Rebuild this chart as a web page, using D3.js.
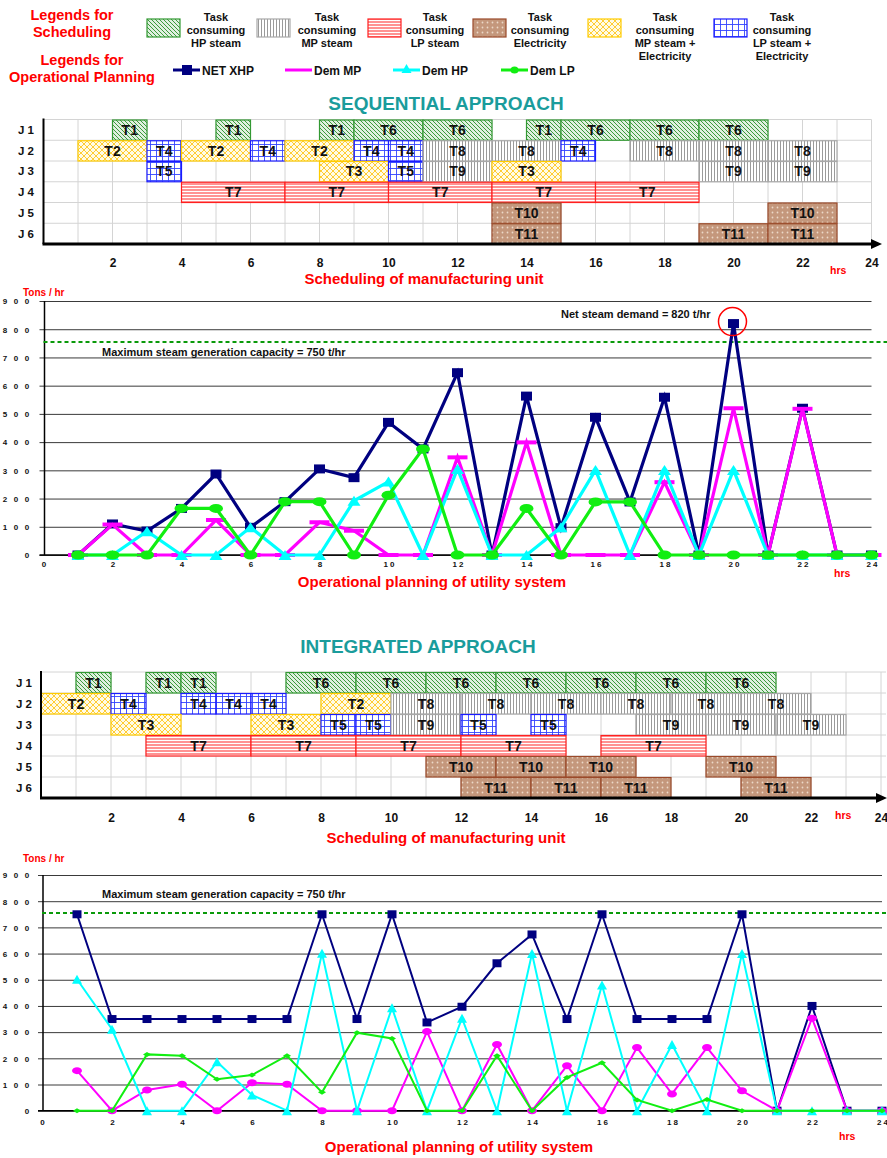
<!DOCTYPE html>
<html>
<head>
<meta charset="utf-8">
<script src="https://cdn.jsdelivr.net/npm/d3@7"></script>
<style>
  body { margin: 0; background: #fff; }
  text { font-family: Arial, "Liberation Sans", sans-serif; }
</style>
</head>
<body>
<script>
// ---------- data ----------
var jobs = ["J 1", "J 2", "J 3", "J 4", "J 5", "J 6"];
var hours = [1, 2, 3, 4, 5, 6, 7, 8, 9, 10, 11, 12, 13, 14, 15, 16, 17, 18, 19, 20, 21, 22, 23, 24];
var ganttTicks = [2, 4, 6, 8, 10, 12, 14, 16, 18, 20, 22, 24];
var chartXTicks = [0, 2, 4, 6, 8, 10, 12, 14, 16, 18, 20, 22, 24];
var chartYTicks = [0, 100, 200, 300, 400, 500, 600, 700, 800, 900];

// which utility each task consumes
var taskType = {T1: "hp", T6: "hp", T8: "mp", T9: "mp", T7: "lp",
                T10: "el", T11: "el", T2: "mpe", T3: "mpe", T4: "lpe", T5: "lpe"};

// [job, task, start, end]
var seqTasks = [
  ["J 1","T1",2,3],["J 1","T1",5,6],["J 1","T1",8,9],["J 1","T6",9,11],["J 1","T6",11,13],
  ["J 1","T1",14,15],["J 1","T6",15,17],["J 1","T6",17,19],["J 1","T6",19,21],
  ["J 2","T2",1,3],["J 2","T4",3,4],["J 2","T2",4,6],["J 2","T4",6,7],["J 2","T2",7,9],
  ["J 2","T4",9,10],["J 2","T4",10,11],["J 2","T8",11,13],["J 2","T8",13,15],["J 2","T4",15,16],
  ["J 2","T8",17,19],["J 2","T8",19,21],["J 2","T8",21,23],
  ["J 3","T5",3,4],["J 3","T3",8,10],["J 3","T5",10,11],["J 3","T9",11,13],["J 3","T3",13,15],
  ["J 3","T9",19,21],["J 3","T9",21,23],
  ["J 4","T7",4,7],["J 4","T7",7,10],["J 4","T7",10,13],["J 4","T7",13,16],["J 4","T7",16,19],
  ["J 5","T10",13,15],["J 5","T10",21,23],
  ["J 6","T11",13,15],["J 6","T11",19,21],["J 6","T11",21,23]
];
var intTasks = [
  ["J 1","T1",1,2],["J 1","T1",3,4],["J 1","T1",4,5],["J 1","T6",7,9],["J 1","T6",9,11],
  ["J 1","T6",11,13],["J 1","T6",13,15],["J 1","T6",15,17],["J 1","T6",17,19],["J 1","T6",19,21],
  ["J 2","T2",0,2],["J 2","T4",2,3],["J 2","T4",4,5],["J 2","T4",5,6],["J 2","T4",6,7],
  ["J 2","T2",8,10],["J 2","T8",10,12],["J 2","T8",12,14],["J 2","T8",14,16],["J 2","T8",16,18],
  ["J 2","T8",18,20],["J 2","T8",20,22],
  ["J 3","T3",2,4],["J 3","T3",6,8],["J 3","T5",8,9],["J 3","T5",9,10],["J 3","T9",10,12],
  ["J 3","T5",12,13],["J 3","T5",14,15],["J 3","T9",17,19],["J 3","T9",19,21],["J 3","T9",21,23],
  ["J 4","T7",3,6],["J 4","T7",6,9],["J 4","T7",9,12],["J 4","T7",12,15],["J 4","T7",16,19],
  ["J 5","T10",11,13],["J 5","T10",13,15],["J 5","T10",15,17],["J 5","T10",19,21],
  ["J 6","T11",12,14],["J 6","T11",14,16],["J 6","T11",16,18],["J 6","T11",20,22]
];

// steam demand (t/hr) per hour, sequential approach
var seqNetXHP = [0,110,85,165,287,98,189,305,274,470,376,646,0,563,97,488,188,559,0,820,0,520,0,0];
var seqDemMP  = [0,108,0,0,124,0,0,116,86,0,0,346,0,399,0,0,0,258,0,520,0,518,0,0];
var seqDemHP  = [0,0,84,0,0,98,0,0,192,260,0,305,0,0,98,301,0,301,0,301,0,0,0,0];
var seqDemLP  = [0,0,0,165,165,0,189,189,0,212,376,0,0,165,0,188,188,0,0,0,0,0,0,0];

// integrated approach
var intNetXHP = [750,350,350,350,350,350,350,750,350,750,337,397,563,673,350,750,350,350,350,750,0,400,0,0];
var intDemMP  = [153,0,79,101,0,107,101,0,0,0,302,0,253,0,172,0,241,64,241,76,0,353,0,0];
var intDemHP  = [502,311,0,0,187,60,0,601,0,393,0,353,0,600,0,480,0,253,0,600,0,0,0,0];
var intDemLP  = [0,0,215,210,120,136,210,70,298,276,0,0,210,0,127,183,41,0,43,0,0,0,0,0];

var capacityLine = 755;
var peakHour = 20, peakValue = 820;

var legendTasks = [
  ["hp",  ["Task", "consuming", "HP steam"]],
  ["mp",  ["Task", "consuming", "MP steam"]],
  ["lp",  ["Task", "consuming", "LP steam"]],
  ["el",  ["Task", "consuming", "Electricity"]],
  ["mpe", ["Task", "consuming", "MP steam +", "Electricity"]],
  ["lpe", ["Task", "consuming", "LP steam +", "Electricity"]]
];
var seriesNames = ["NET XHP", "Dem MP", "Dem HP", "Dem LP"];

// ---------- drawing ----------
var svg = d3.select("body").append("svg").attr("width", 887).attr("height", 1158);
var defs = svg.append("defs");
var RED = "#ff0000", TEAL = "#1a9c9c";
var col = {navy: "#000080", mag: "#ff00ff", cyan: "#00ffff", green: "#11ee11"};
var border = {hp: "#339933", mp: "#a8a8a8", lp: "#ff2020", el: "#9a4a2a", mpe: "#ffcc00", lpe: "#1a1aff"};

function pattern(id, w, h, bg) {
  var p = defs.append("pattern").attr("id", "pat-" + id)
    .attr("patternUnits", "userSpaceOnUse").attr("width", w).attr("height", h);
  p.append("rect").attr("width", w).attr("height", h).attr("fill", bg);
  return p;
}
pattern("hp", 4, 4, "#e0f0e0").append("path")
  .attr("d", "M0,0 L4,4 M-1,3 L1,5 M3,-1 L5,1").attr("stroke", "#3c9a3c").attr("stroke-width", 1);
pattern("mp", 3, 3, "#fff").append("line")
  .attr("x1", 0.5).attr("x2", 0.5).attr("y1", 0).attr("y2", 3).attr("stroke", "#9a9a9a").attr("stroke-width", 1);
pattern("lp", 3, 3, "#fff").append("line")
  .attr("x1", 0).attr("x2", 3).attr("y1", 1).attr("y2", 1).attr("stroke", "#ff4a4a").attr("stroke-width", 1.2);
var pe = pattern("el", 5, 5, "#c4977c");
pe.append("circle").attr("cx", 2.5).attr("cy", 2.5).attr("r", 0.9).attr("fill", "#ecd8c8");
pattern("mpe", 6, 6, "#fffbe6").append("path")
  .attr("d", "M0,0 L6,6 M6,0 L0,6 M-1,5 L1,7 M5,-1 L7,1 M-1,1 L1,-1 M5,7 L7,5")
  .attr("stroke", "#ffcc33").attr("stroke-width", 1);
pattern("lpe", 6, 6, "#fff").append("path")
  .attr("d", "M0,0.5 H6 M0.5,0 V6").attr("stroke", "#3344ff").attr("stroke-width", 0.9);

// ---- legends ----
var lg = svg.append("g");
lg.append("text").attr("x", 72).attr("y", 20).attr("text-anchor", "middle")
  .attr("font-size", 14.5).attr("font-weight", "bold").attr("fill", RED).text("Legends for");
lg.append("text").attr("x", 72).attr("y", 37).attr("text-anchor", "middle")
  .attr("font-size", 14.5).attr("font-weight", "bold").attr("fill", RED).text("Scheduling");
lg.append("text").attr("x", 82).attr("y", 65).attr("text-anchor", "middle")
  .attr("font-size", 14.5).attr("font-weight", "bold").attr("fill", RED).text("Legends for");
lg.append("text").attr("x", 82).attr("y", 82).attr("text-anchor", "middle")
  .attr("font-size", 14.5).attr("font-weight", "bold").attr("fill", RED).text("Operational Planning");

var swatchX = [147, 257, 368, 473, 588, 714];
var swatchTextX = [216, 327, 435, 540, 665, 782];
legendTasks.forEach(function (d, i) {
  lg.append("rect").attr("x", swatchX[i]).attr("y", 19).attr("width", 33).attr("height", 18)
    .attr("fill", "url(#pat-" + d[0] + ")").attr("stroke", border[d[0]]).attr("stroke-width", 1.2);
  d[1].forEach(function (line, j) {
    lg.append("text").attr("x", swatchTextX[i]).attr("y", 21 + j * 13).attr("text-anchor", "middle")
      .attr("font-size", 11).attr("font-weight", "bold").attr("fill", "#111").text(line);
  });
});

var legLineX = [173, 285, 393, 501];
var legColors = [col.navy, col.mag, col.cyan, col.green];
seriesNames.forEach(function (name, i) {
  var x0 = legLineX[i];
  lg.append("line").attr("x1", x0).attr("x2", x0 + 27).attr("y1", 70).attr("y2", 70)
    .attr("stroke", legColors[i]).attr("stroke-width", 3);
  if (i === 0) lg.append("rect").attr("x", x0 + 9).attr("y", 65).attr("width", 10).attr("height", 10).attr("fill", col.navy);
  if (i === 2) lg.append("path").attr("d", "M" + (x0 + 13.5) + ",64 l5,9 h-10 z").attr("fill", col.cyan);
  if (i === 3) lg.append("ellipse").attr("cx", x0 + 13.5).attr("cy", 70).attr("rx", 4).attr("ry", 3.5).attr("fill", col.green);
  lg.append("text").attr("x", x0 + 29).attr("y", 74.5).attr("font-size", 12).attr("font-weight", "bold")
    .attr("fill", "#111").text(name);
});

// ---- gantt ----
function drawGantt(tasks, L) {
  var x = d3.scaleLinear().domain([0, 24]).range([L.x0, L.x1]);
  var y = d3.scaleBand().domain(jobs).range([L.top, L.bottom]);
  var g = svg.append("g");

  g.selectAll(".vg").data(x.ticks(24).slice(1)).join("line")
    .attr("x1", function (d) { return x(d); }).attr("x2", function (d) { return x(d); })
    .attr("y1", L.top).attr("y2", L.bottom).attr("stroke", "#d4d4d4");
  g.selectAll(".hg").data(jobs).join("line")
    .attr("x1", L.x0).attr("x2", L.gridRight)
    .attr("y1", function (d) { return y(d); }).attr("y2", function (d) { return y(d); })
    .attr("stroke", "#d4d4d4");

  var bars = g.selectAll(".bar").data(tasks).join("g");
  bars.append("rect")
    .attr("x", function (d) { return x(d[2]); })
    .attr("y", function (d) { return y(d[0]) + 0.5; })
    .attr("width", function (d) { return x(d[3]) - x(d[2]); })
    .attr("height", y.bandwidth() - 0.5)
    .attr("fill", function (d) { return "url(#pat-" + taskType[d[1]] + ")"; })
    .attr("stroke", function (d) { return border[taskType[d[1]]]; })
    .attr("stroke-width", 1.2);
  bars.append("text")
    .attr("x", function (d) { return (x(d[2]) + x(d[3])) / 2; })
    .attr("y", function (d) { return y(d[0]) + y.bandwidth() / 2 + 5; })
    .attr("text-anchor", "middle").attr("font-size", 14).attr("font-weight", "bold")
    .attr("fill", "#111").text(function (d) { return d[1]; });

  g.selectAll(".jl").data(jobs).join("text")
    .attr("x", L.labelX).attr("y", function (d) { return y(d) + y.bandwidth() / 2 + 4; })
    .attr("text-anchor", "end").attr("font-size", 11.5).attr("font-weight", "bold").attr("fill", "#111")
    .text(function (d) { return d; });

  g.append("line").attr("x1", L.x0).attr("x2", L.x0).attr("y1", L.top - 1).attr("y2", L.bottom)
    .attr("stroke", "#000").attr("stroke-width", 2);
  g.append("line").attr("x1", L.x0 - 1).attr("x2", L.axisEnd - 6).attr("y1", L.bottom).attr("y2", L.bottom)
    .attr("stroke", "#000").attr("stroke-width", 3);
  g.append("path").attr("d", "M" + L.axisEnd + "," + L.bottom + " l-11,-5 v10 z").attr("fill", "#000");

  var ax = g.append("g").attr("transform", "translate(0," + L.tickY + ")")
    .call(d3.axisBottom(x).tickValues(ganttTicks).tickSize(0).tickFormat(d3.format("d")));
  ax.select(".domain").remove();
  ax.selectAll("text").attr("y", 0).attr("dy", 0).attr("font-size", 12).attr("font-weight", "bold")
    .attr("fill", "#111").attr("font-family", "Arial, 'Liberation Sans', sans-serif");

  g.append("text").attr("x", L.hrsX).attr("y", L.hrsY).attr("font-size", 10.5).attr("font-weight", "bold")
    .attr("fill", RED).text("hrs");
  g.append("text").attr("x", L.captionX).attr("y", L.captionY).attr("text-anchor", "middle")
    .attr("font-size", 15).attr("font-weight", "bold").attr("fill", RED).text("Scheduling of manufacturing unit");
}

// ---- line chart ----
function markerPath(m) {
  var w = m.w / 2, h = m.h / 2;
  if (m.type === "tri") return "M0," + (-h) + " L" + w + "," + h + " L" + (-w) + "," + h + " Z";
  if (m.type === "dia") return "M" + (-w) + ",0 L0," + (-h) + " L" + w + ",0 L0," + h + " Z";
  if (m.type === "ell") return "M" + (-w) + ",0 A" + w + "," + h + " 0 1,0 " + w + ",0 A" + w + "," + h + " 0 1,0 " + (-w) + ",0 Z";
  return "M" + (-w) + "," + (-h) + " H" + w + " V" + h + " H" + (-w) + " Z";
}

function drawChart(series, L) {
  var x = d3.scaleLinear().domain([0, 24]).range([L.x0, L.x1]);
  var y = d3.scaleLinear().domain([0, 900]).range([L.y0, L.y1]);
  var g = svg.append("g");
  var spaced = function (d) { return String(d).split("").join(" "); };

  var grid = g.append("g").attr("transform", "translate(" + (L.x0 - 4) + ",0)")
    .call(d3.axisLeft(y).tickValues(chartYTicks).tickSize(-(L.x1 - L.x0 + 4)).tickFormat(""));
  grid.select(".domain").remove();
  grid.selectAll("line").attr("stroke", "#3a3a3a").attr("stroke-width", 1);

  var ya = g.append("g").attr("transform", "translate(" + L.yLabelX + ",0)")
    .call(d3.axisLeft(y).tickValues(chartYTicks).tickSize(0).tickPadding(0).tickFormat(spaced));
  ya.select(".domain").remove();
  ya.selectAll("text").attr("dy", "0.35em").attr("font-size", 8).attr("font-weight", "bold")
    .attr("letter-spacing", 2.2).attr("fill", "#111").attr("font-family", "Arial, 'Liberation Sans', sans-serif");

  var xa = g.append("g").attr("transform", "translate(0," + L.xLabelY + ")")
    .call(d3.axisBottom(x).tickValues(chartXTicks).tickSize(0).tickFormat(spaced));
  xa.select(".domain").remove();
  xa.selectAll("text").attr("y", 0).attr("dy", 0).attr("font-size", 8).attr("font-weight", "bold")
    .attr("fill", "#111").attr("font-family", "Arial, 'Liberation Sans', sans-serif");

  g.append("line").attr("x1", L.x0 + 1).attr("x2", L.x0 + 1).attr("y1", y(900)).attr("y2", y(0))
    .attr("stroke", "#000").attr("stroke-width", 1.5);
  g.append("line").attr("x1", L.x0 - 4).attr("x2", L.x1).attr("y1", y(0)).attr("y2", y(0))
    .attr("stroke", "#000").attr("stroke-width", 1.5);

  g.append("line").attr("x1", L.x0).attr("x2", 887).attr("y1", y(capacityLine)).attr("y2", y(capacityLine))
    .attr("stroke", "#0a9a0a").attr("stroke-width", 2).attr("stroke-dasharray", "4,3");
  g.append("text").attr("x", 102).attr("y", L.capLabelY).attr("font-size", 11).attr("font-weight", "bold")
    .attr("fill", "#111").text("Maximum steam generation capacity = 750 t/hr");

  var line = d3.line().x(function (d, i) { return x(hours[i]); }).y(function (d) { return y(d); });
  series.forEach(function (s) {
    g.append("path").datum(s.values).attr("d", line).attr("fill", "none")
      .attr("stroke", s.color).attr("stroke-width", s.width).attr("stroke-linejoin", "miter");
    g.selectAll(null).data(s.values).join("path")
      .attr("transform", function (d, i) { return "translate(" + x(hours[i]) + "," + y(d) + ")"; })
      .attr("d", markerPath(s.marker)).attr("fill", s.color);
  });

  g.append("text").attr("x", 23).attr("y", L.tonsY).attr("font-size", 10).attr("font-weight", "bold")
    .attr("fill", RED).text("Tons / hr");
  g.append("text").attr("x", L.hrsX).attr("y", L.hrsY).attr("font-size", 10.5).attr("font-weight", "bold")
    .attr("fill", RED).text("hrs");
  g.append("text").attr("x", L.captionX).attr("y", L.captionY).attr("text-anchor", "middle")
    .attr("font-size", 15).attr("font-weight", "bold").attr("fill", RED).text("Operational planning of utility system");
  return {x: x, y: y, g: g};
}

// ---- sequential ----
svg.append("text").attr("x", 446).attr("y", 110).attr("text-anchor", "middle").attr("font-size", 19)
  .attr("font-weight", "bold").attr("fill", TEAL).text("SEQUENTIAL APPROACH");
drawGantt(seqTasks, {x0: 43.5, x1: 871.5, top: 119.5, bottom: 244, gridRight: 871.5, axisEnd: 882,
  tickY: 267, labelX: 34, hrsX: 830, hrsY: 274, captionX: 424, captionY: 284});

var c1 = drawChart([
  {values: seqNetXHP, color: col.navy, width: 3.2, marker: {type: "sq", w: 11, h: 9}},
  {values: seqDemMP, color: col.mag, width: 3.2, marker: {type: "sq", w: 20, h: 4}},
  {values: seqDemHP, color: col.cyan, width: 3.2, marker: {type: "tri", w: 13, h: 10}},
  {values: seqDemLP, color: col.green, width: 3.2, marker: {type: "ell", w: 14, h: 9}}
], {x0: 43.5, x1: 871.5, y0: 555, y1: 301, yLabelX: 31.5, xLabelY: 567, tonsY: 296, capLabelY: 355.5,
  hrsX: 834, hrsY: 577, captionX: 432, captionY: 587});

c1.g.append("circle").attr("cx", c1.x(peakHour) - 1).attr("cy", c1.y(peakValue) - 2).attr("r", 14)
  .attr("fill", "none").attr("stroke", "#ff0000").attr("stroke-width", 1.5);
c1.g.append("text").attr("x", c1.x(peakHour) - 23).attr("y", 318).attr("text-anchor", "end")
  .attr("font-size", 11).attr("font-weight", "bold").attr("fill", "#111").text("Net steam demand = 820 t/hr");

// ---- integrated ----
svg.append("text").attr("x", 418).attr("y", 653).attr("text-anchor", "middle").attr("font-size", 19)
  .attr("font-weight", "bold").attr("fill", TEAL).text("INTEGRATED APPROACH");
drawGantt(intTasks, {x0: 41, x1: 881, top: 672, bottom: 798, gridRight: 886, axisEnd: 887,
  tickY: 822, labelX: 32, hrsX: 835, hrsY: 819, captionX: 446, captionY: 843});

drawChart([
  {values: intNetXHP, color: col.navy, width: 2, marker: {type: "sq", w: 9, h: 8}},
  {values: intDemMP, color: col.mag, width: 2, marker: {type: "ell", w: 10, h: 7}},
  {values: intDemHP, color: col.cyan, width: 2, marker: {type: "tri", w: 10, h: 9}},
  {values: intDemLP, color: col.green, width: 2, marker: {type: "dia", w: 8, h: 5}}
], {x0: 42, x1: 882, y0: 1110.7, y1: 875, yLabelX: 31.5, xLabelY: 1125, tonsY: 862, capLabelY: 897.5,
  hrsX: 839, hrsY: 1140, captionX: 459, captionY: 1152});
</script>
</body>
</html>
